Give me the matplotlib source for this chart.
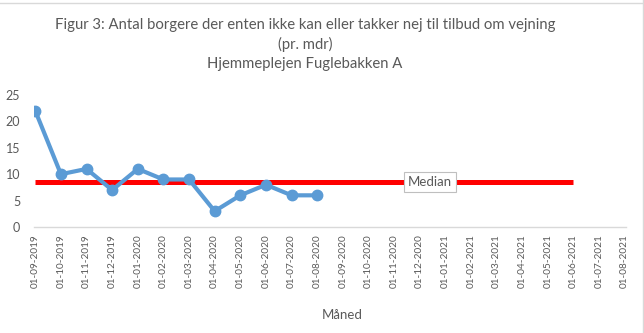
import numpy as np
import matplotlib
matplotlib.use("Agg")
import matplotlib.pyplot as plt
from matplotlib.lines import Line2D

# Monthly registrations
months = ["01-09-2019", "01-10-2019", "01-11-2019", "01-12-2019",
          "01-01-2020", "01-02-2020", "01-03-2020", "01-04-2020",
          "01-05-2020", "01-06-2020", "01-07-2020", "01-08-2020",
          "01-09-2020", "01-10-2020", "01-11-2020", "01-12-2020",
          "01-01-2021", "01-02-2021", "01-03-2021", "01-04-2021",
          "01-05-2021", "01-06-2021", "01-07-2021", "01-08-2021"]
counts = [22, 10, 11, 7, 11, 9, 9, 3, 6, 8, 6, 6]

# Median reference line runs through 01-06-2021
median_value = float(np.median(counts))
median_months = 22
median_series = [median_value] * median_months
median_label_idx = 14

title = ("Figur 3: Antal borgere der enten ikke kan eller takker nej til tilbud om vejning\n"
         "(pr. mdr)\n"
         "Hjemmeplejen Fuglebakken A")

font = "Lato"
text_color = "#595959"
plt.rcParams["font.family"] = [font, "DejaVu Sans"]

W, H = 644, 333
fig = plt.figure(figsize=(W / 100, H / 100), dpi=100)
ax = fig.add_axes([34 / W, (H - 227) / H, (626 - 34) / W, (227 - 95) / H])

x_all = np.arange(len(months))
ax.plot(x_all[:median_months], median_series, color="#FF0000", lw=3.6,
        solid_capstyle="butt", zorder=2)
ax.plot(x_all[:len(counts)], counts, color="#5B9BD5", lw=3.0, marker="o",
        markersize=7.5, zorder=3)

ax.annotate("Median", xy=(x_all[median_label_idx], median_value),
            xytext=(x_all[median_label_idx] + 1.4, median_value),
            ha="center", va="center", fontsize=9.5, color=text_color,
            bbox=dict(boxstyle="square,pad=0.3", fc="white", ec="#BFBFBF", lw=0.8),
            zorder=4)

ax.set_xlim(-0.05, len(months) - 1 + 0.05)
ax.set_ylim(0, 25)
ax.set_yticks(np.arange(0, 26, 5))
ax.set_xticks(x_all)
ax.set_xticklabels(months, rotation=90)
ax.tick_params(axis="both", length=0, colors=text_color)
ax.tick_params(axis="y", labelsize=9, pad=10)
ax.tick_params(axis="x", labelsize=7.2, pad=5)
for lbl in ax.get_xticklabels() + ax.get_yticklabels():
    lbl.set_color(text_color)

for side in ("top", "right", "left"):
    ax.spines[side].set_visible(False)
ax.spines["bottom"].set_color("#D9D9D9")
ax.spines["bottom"].set_linewidth(1)

# Axis title placed below the rotated month labels
fig.text(342 / W, 1 - 315 / H, "Måned", ha="center", va="center",
         fontsize=9.5, color=text_color)

fig.text(305 / W, 1 - 18 / H, title, ha="center", va="top", fontsize=10.7,
         color=text_color, linespacing=1.45)

# Chart frame edges
fig.add_artist(Line2D([0, 1], [1 - 2.5 / H, 1 - 2.5 / H], transform=fig.transFigure,
                      color="#D9D9D9", lw=1))
fig.add_artist(Line2D([1 - 1.5 / W, 1 - 1.5 / W], [0, 1], transform=fig.transFigure,
                      color="#D9D9D9", lw=1))

fig.savefig("out.png", dpi=100)
